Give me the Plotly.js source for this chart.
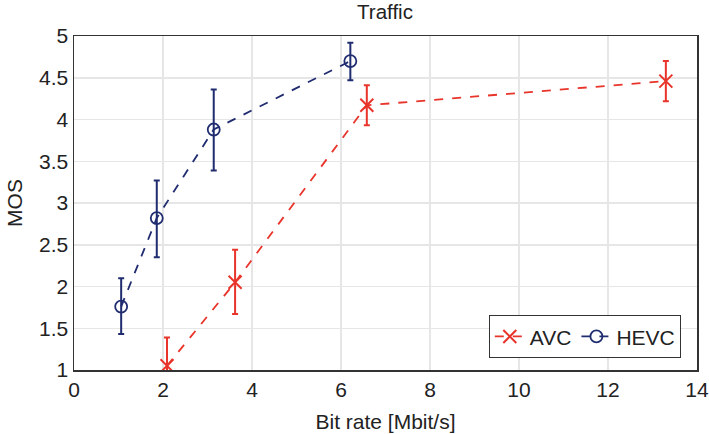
<!DOCTYPE html>
<html><head><meta charset="utf-8">
<script src="https://cdn.plot.ly/plotly-3.0.1.min.js"></script>
<style>html,body{margin:0;padding:0;background:#fff}#chart{width:709px;height:434px}</style>
</head><body><div id="chart"></div>
<script>
const avcX = [2.09, 3.62, 6.58, 13.30];
const avcY = [1.05, 2.05, 4.17, 4.46];
const avcErrPlus = [0.34, 0.39, 0.24, 0.24];
const avcErrMinus = [0.34, 0.38, 0.24, 0.24];
const hevcX = [1.06, 1.86, 3.14, 6.21];
const hevcY = [1.76, 2.82, 3.88, 4.70];
const hevcErrPlus = [0.34, 0.45, 0.48, 0.22];
const hevcErrMinus = [0.33, 0.47, 0.49, 0.23];
const red = 'rgb(232,52,42)';
const navy = 'rgb(32,44,112)';
const traces = [
  {x: avcX, y: avcY, name: 'AVC', type: 'scatter', mode: 'lines+markers',
   line: {color: red, dash: 'dash', width: 1.8},
   marker: {symbol: 'x-thin-open', size: 13, line: {color: red, width: 2}, color: red},
   error_y: {type: 'data', symmetric: false, array: avcErrPlus, arrayminus: avcErrMinus, color: red, thickness: 2, width: 3}},
  {x: hevcX, y: hevcY, name: 'HEVC', type: 'scatter', mode: 'lines+markers',
   line: {color: navy, dash: 'dash', width: 1.8},
   marker: {symbol: 'circle-open', size: 12, line: {color: navy, width: 1.8}, color: navy},
   error_y: {type: 'data', symmetric: false, array: hevcErrPlus, arrayminus: hevcErrMinus, color: navy, thickness: 2, width: 3}}
];
const layout = {
  width: 709, height: 434,
  margin: {l: 74, r: 12, t: 36, b: 64},
  paper_bgcolor: '#fff', plot_bgcolor: '#fff',
  font: {family: 'Liberation Sans, Arial, sans-serif', size: 21, color: '#222'},
  title: {text: 'Traffic', x: 0.543, xanchor: 'center', y: 0.972, yanchor: 'middle', font: {size: 20.5, color: '#222'}},
  xaxis: {range: [0, 14], dtick: 2, tick0: 0, showgrid: true, gridcolor: '#e6e6e6', gridwidth: 1.5,
    zeroline: false, showline: true, mirror: true, linecolor: '#333', linewidth: 1.5, ticks: '', automargin: false,
    title: {text: 'Bit rate [Mbit/s]', standoff: 14, font: {size: 21}}},
  yaxis: {range: [1, 5], dtick: 0.5, tick0: 1, showgrid: true, gridcolor: '#e6e6e6', gridwidth: 1.5,
    zeroline: false, showline: true, mirror: true, linecolor: '#333', linewidth: 1.5, ticks: '', automargin: false,
    title: {text: 'MOS', standoff: 10, font: {size: 21}}},
  showlegend: true,
  legend: {orientation: 'h', x: 0.974, xanchor: 'right', y: 0.035, yanchor: 'bottom',
    bordercolor: '#333', borderwidth: 1, bgcolor: '#fff', font: {size: 21}, itemwidth: 30}
};
Plotly.newPlot('chart', traces, layout, {displayModeBar: false, staticPlot: true});
</script></body></html>
